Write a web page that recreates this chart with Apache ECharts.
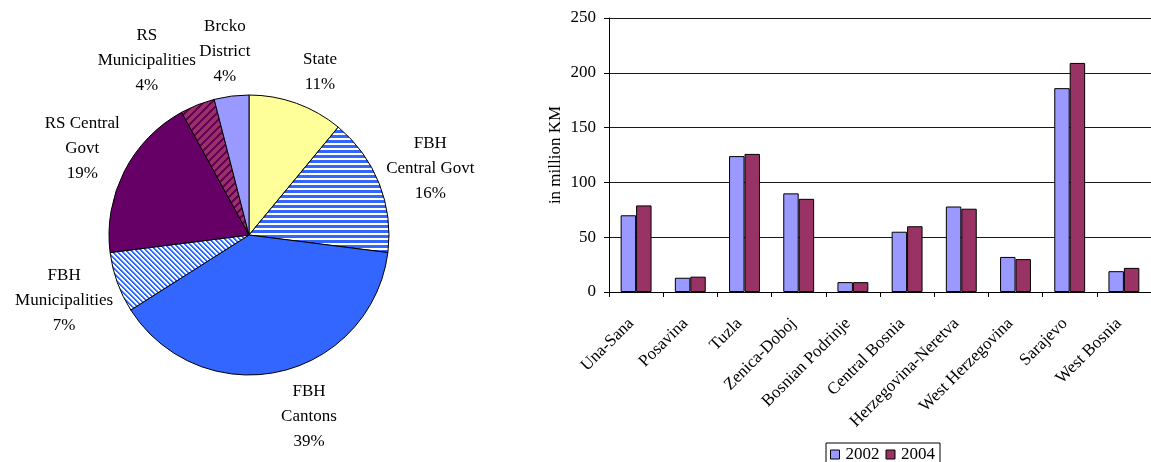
<!DOCTYPE html>
<html>
<head>
<meta charset="utf-8">
<script src="https://cdn.jsdelivr.net/npm/echarts@6/dist/echarts.min.js"></script>
<style>
  html, body { margin: 0; padding: 0; background: #fff; }
  #chart { width: 1151px; height: 462px; }
</style>
</head>
<body>
<div id="chart"></div>
<script>
// Budget shares by level of government (percent)
const shareNames = ['State', 'FBH\nCentral Govt', 'FBH\nCantons', 'FBH\nMunicipalities', 'RS Central\nGovt', 'RS\nMunicipalities', 'Brcko\nDistrict'];
const sharePercent = [11, 16, 39, 7, 19, 4, 4];

// Cantonal spending, in million KM
const regions = ['Una-Sana', 'Posavina', 'Tuzla', 'Zenica-Doboj', 'Bosnian Podrinje', 'Central Bosnia', 'Herzegovina-Neretva', 'West Herzegovina', 'Sarajevo', 'West Bosnia'];
const years = ['2002', '2004'];
const values2002 = [70, 13, 124, 90, 9, 55, 78, 32, 186, 19];
const values2004 = [79, 14, 126, 85, 9, 60, 76, 30, 209, 22];
const yTicks = [0, 50, 100, 150, 200, 250];

const FONT = 'Liberation Serif';

// Striped fills built on small canvases, tiled by the renderer
function tile(size, paint) {
  const c = document.createElement('canvas');
  c.width = size; c.height = size;
  const g = c.getContext('2d');
  const img = g.createImageData(size, size);
  for (let y = 0; y < size; y++) {
    for (let x = 0; x < size; x++) {
      const rgb = paint(x, y);
      const o = (y * size + x) * 4;
      img.data[o] = rgb[0]; img.data[o + 1] = rgb[1]; img.data[o + 2] = rgb[2]; img.data[o + 3] = 255;
    }
  }
  g.putImageData(img, 0, 0);
  return { image: c, repeat: 'repeat' };
}
const BLUE = [0x33, 0x66, 0xff], WHITE = [255, 255, 255], PALE = [0x99, 0xcc, 0xff];
const WINE = [0x99, 0x33, 0x66], PLUM = [0x66, 0x00, 0x55];

const horizontalBlue = tile(5, (x, y) => (y < 3 ? BLUE : WHITE));
const diagonalBlue = tile(5, (x, y) => {
  const k = ((x - y) % 5 + 5) % 5;
  return k < 2 ? BLUE : (k === 2 ? PALE : WHITE);
});
const diagonalWine = tile(8, (x, y) => {
  const k = (x + y) % 8;
  return k < 3 ? PLUM : WINE;
});

const sliceFills = ['#ffff99', horizontalBlue, '#3366ff', diagonalBlue, '#660066', diagonalWine, '#9999ff'];

// Pie geometry and label placement around the rim
const pieCenter = [249, 235];
const pieRadius = 140;
const labelReach = [38, 53, 51, 56, 48, 62, 45];
const labelTurn = [3.7, 1.6, -5.7, 0.4, 0.5, -8.8, -0.3];
const shareTotal = sharePercent.reduce((a, b) => a + b, 0);

function pieLabelSpot(params) {
  const i = params.dataIndex;
  let before = 0;
  for (let k = 0; k < i; k++) before += sharePercent[k];
  const mid = (before + sharePercent[i] / 2) / shareTotal * 360 + labelTurn[i];
  const a = mid * Math.PI / 180;
  const r = pieRadius + labelReach[i];
  return {
    x: pieCenter[0] + r * Math.sin(a),
    y: pieCenter[1] - r * Math.cos(a),
    align: 'center',
    verticalAlign: 'middle'
  };
}

const chart = echarts.init(document.getElementById('chart'), null, { renderer: 'canvas' });

chart.setOption({
  animation: false,
  backgroundColor: '#fff',
  textStyle: { fontFamily: FONT, color: '#000' },
  legend: {
    data: years,
    left: 826,
    top: 443,
    orient: 'horizontal',
    icon: 'rect',
    itemWidth: 9,
    itemHeight: 9,
    itemGap: 6,
    padding: [3, 5, 3, 4],
    borderColor: '#000',
    borderWidth: 1,
    itemStyle: { borderColor: '#000', borderWidth: 1 },
    textStyle: { fontFamily: FONT, fontSize: 17, color: '#000', padding: [0, 0, 0, 1] }
  },
  grid: { left: 609, top: 18, right: -11, bottom: 170, containLabel: false },
  xAxis: {
    type: 'category',
    data: regions,
    boundaryGap: true,
    axisLine: { show: true, lineStyle: { color: '#000', width: 1 } },
    axisTick: { show: true, length: 5, alignWithLabel: false, lineStyle: { color: '#000' } },
    axisLabel: { interval: 0, rotate: 45, margin: 24, padding: [0, 7, 0, 0], fontFamily: FONT, fontSize: 17, color: '#000' }
  },
  yAxis: {
    type: 'value',
    min: yTicks[0],
    max: yTicks[yTicks.length - 1],
    interval: yTicks[1] - yTicks[0],
    name: 'in million KM',
    nameLocation: 'middle',
    nameRotate: 90,
    nameGap: 45,
    nameTextStyle: { fontFamily: FONT, fontSize: 17, color: '#000' },
    axisLine: { show: true, lineStyle: { color: '#000', width: 1 } },
    axisTick: { show: true, length: 5, lineStyle: { color: '#000' } },
    axisLabel: { margin: 13, fontFamily: FONT, fontSize: 17, color: '#000' },
    splitLine: { show: true, lineStyle: { color: '#1a1a1a', width: 1 } }
  },
  series: [
    {
      type: 'pie',
      center: pieCenter,
      radius: pieRadius,
      startAngle: 90,
      clockwise: true,
      avoidLabelOverlap: false,
      itemStyle: { borderColor: '#000', borderWidth: 1 },
      label: {
        show: true,
        position: 'outside',
        formatter: '{b}\n{c}%',
        fontFamily: FONT,
        fontSize: 17,
        lineHeight: 25,
        color: '#000'
      },
      labelLine: { show: false },
      labelLayout: pieLabelSpot,
      emphasis: { disabled: true },
      data: shareNames.map((n, i) => ({ name: n, value: sharePercent[i], itemStyle: { color: sliceFills[i] } }))
    },
    {
      type: 'bar',
      name: years[0],
      data: values2002,
      barGap: '0%',
      barCategoryGap: '43%',
      itemStyle: { color: '#9999ff', borderColor: '#000', borderWidth: 1 }
    },
    {
      type: 'bar',
      name: years[1],
      data: values2004,
      barGap: '0%',
      barCategoryGap: '43%',
      itemStyle: { color: '#993366', borderColor: '#000', borderWidth: 1 }
    }
  ]
});
</script>
</body>
</html>
